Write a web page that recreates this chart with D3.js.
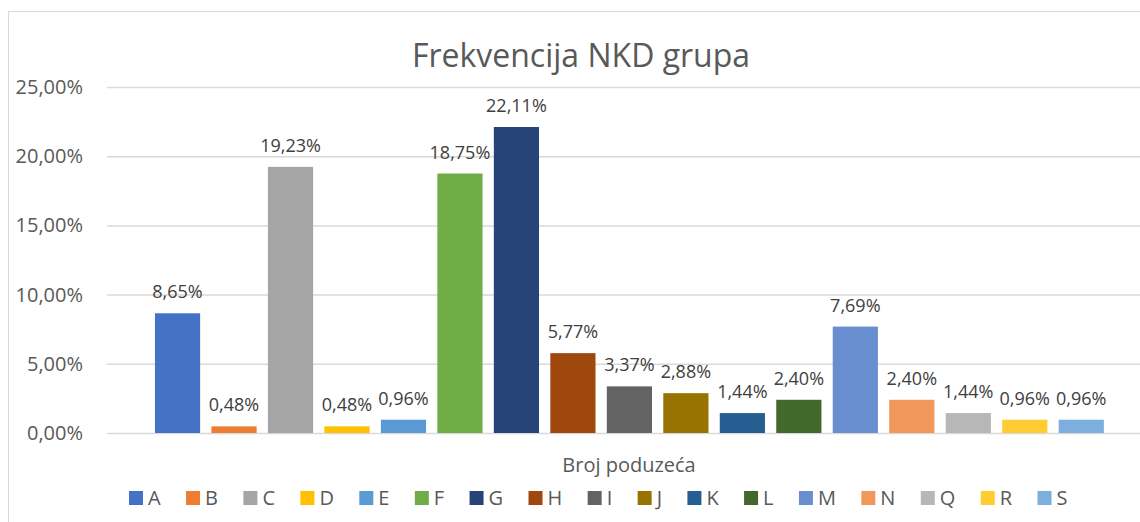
<!DOCTYPE html>
<html><head><meta charset="utf-8">
<script src="https://cdn.jsdelivr.net/npm/d3@7"></script>
<style>body{margin:0;background:#fff}svg{display:block}text{font-family:"Open Sans",sans-serif}</style>
</head><body><svg id="c" width="1140" height="522"></svg>
<script>
const categories = ["A","B","C","D","E","F","G","H","I","J","K","L","M","N","Q","R","S"];
const values = [8.65,0.48,19.23,0.48,0.96,18.75,22.11,5.77,3.37,2.88,1.44,2.40,7.69,2.40,1.44,0.96,0.96];
const colors = ["#4472C4","#ED7D31","#A5A5A5","#FFC000","#5B9BD5","#70AD47","#264478","#9E480E","#636363","#997300","#255E91","#43682B","#698ED0","#F1975A","#B7B7B7","#FFCD33","#7CAFDD"];
const yTicks = [0,5,10,15,20,25];
const title = "Frekvencija NKD grupa";
const axisTitle = "Broj poduzeća";

const svg = d3.select("#c");
const fmt = v => v.toFixed(2).replace(".", ",") + "%";

svg.append("rect").attr("x",8.5).attr("y",11.5).attr("width",1200).attr("height",520)
  .attr("fill","#fff").attr("stroke","#d9d9d9");

const y = d3.scaleLinear().domain([0,25]).range([433,87]);
const x = d3.scaleBand().domain(categories).range([149.3,1109.5]).paddingInner(0.2).paddingOuter(0.1);

const gy = svg.append("g").attr("transform","translate(107,0)")
  .call(d3.axisLeft(y).tickValues(yTicks).tickSize(-1040).tickPadding(24).tickFormat(d=>fmt(d)));
gy.select(".domain").remove();
gy.selectAll(".tick line").attr("stroke","#d9d9d9").attr("stroke-width",1.5);
gy.selectAll(".tick text").attr("fill","#595959").style("font-size","20px").style("font-family","'Open Sans',sans-serif");

svg.append("g").selectAll("rect").data(values).join("rect")
  .attr("x",(d,i)=>x(categories[i])).attr("width",x.bandwidth())
  .attr("y",d=>y(d)).attr("height",d=>y(0)-y(d)).attr("fill",(d,i)=>colors[i]);

svg.append("g").selectAll("text").data(values).join("text")
  .attr("x",(d,i)=>x(categories[i])+x.bandwidth()/2).attr("y",d=>y(d)-15)
  .attr("text-anchor","middle").attr("fill","#404040").style("font-size","18px").text(d=>fmt(d));

svg.append("text").attr("x",581).attr("y",67).attr("text-anchor","middle")
  .attr("fill","#595959").style("font-size","32px").text(title);

svg.append("text").attr("x",629).attr("y",472).attr("text-anchor","middle")
  .attr("fill","#595959").style("font-size","20px").text(axisTitle);

const lg = svg.append("g");
let lx = 129;
categories.forEach((c,i)=>{
  lg.append("rect").attr("x",lx).attr("y",491).attr("width",14).attr("height",14).attr("fill",colors[i]);
  const t = lg.append("text").attr("x",lx+19).attr("y",505).attr("fill","#595959").style("font-size","20px").text(c);
  lx += 19 + t.node().getComputedTextLength() + 25.4;
});
</script></body></html>
